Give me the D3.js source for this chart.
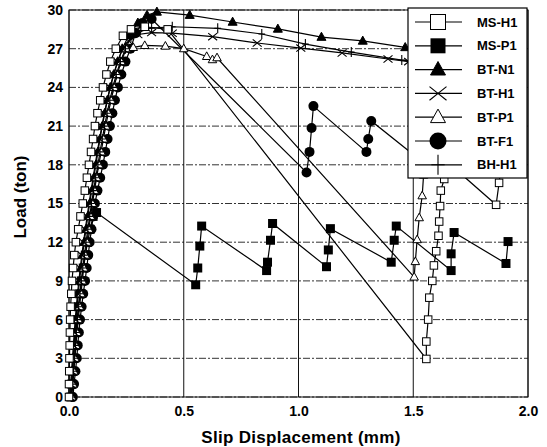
<!DOCTYPE html>
<html>
<head>
<meta charset="utf-8">
<script src="https://cdn.jsdelivr.net/npm/d3@7"></script>
<style>
  body { margin: 0; background: #fff; }
  text { font-family: "Liberation Sans", Arial, sans-serif; font-weight: bold; fill: #000; }
</style>
</head>
<body>
<div id="chart"></div>
<script>
// tick labels
var yTicks = [0, 3, 6, 9, 12, 15, 18, 21, 24, 27, 30];
var xTicks = [0.0, 0.5, 1.0, 1.5, 2.0];

// load steps of the rising (elastic) part, ton
var riseLoad = [0, 1, 2, 3, 4, 5, 6, 7, 8, 9, 10, 11, 12, 13, 14, 15, 16, 17, 18, 19, 20, 21, 22, 23, 24, 25, 26, 27];

// slip (mm) read at each riseLoad step, then [slip, load] pairs after that
var msH1Rise = [0, 0, 0.001, 0.002, 0.003, 0.004, 0.005, 0.007, 0.01, 0.013, 0.018, 0.023, 0.03, 0.04, 0.05, 0.06, 0.069, 0.078, 0.087, 0.096, 0.105, 0.113, 0.124, 0.136, 0.148, 0.163, 0.18, 0.204];
var msH1Tail = [[0.235, 28.0], [0.27, 28.5], [0.33, 28.7], [0.43, 28.5], [1.557, 2.95], [1.557, 4.3], [1.565, 6.0], [1.57, 7.7], [1.583, 9.0], [1.59, 10.2], [1.6, 11.3], [1.61, 12.5], [1.613, 13.6], [1.617, 14.8], [1.62, 16.0], [1.635, 16.9], [1.65, 18.2], [1.861, 14.9], [1.874, 16.6], [1.885, 18.3]];

var msP1Rise = [0.008, 0.012, 0.016, 0.02, 0.025, 0.03, 0.035, 0.041, 0.047, 0.054, 0.062, 0.071, 0.081, 0.092, 0.105];
var msP1Tail = [[0.12, 14.3], [0.552, 8.7], [0.561, 10.0], [0.57, 11.7], [0.578, 13.25], [0.861, 9.8], [0.865, 10.45], [0.878, 12.15], [0.887, 13.45], [1.122, 10.1], [1.13, 11.4], [1.139, 13.05], [1.404, 10.45], [1.417, 12.15], [1.426, 13.25], [1.665, 9.8], [1.665, 11.1], [1.678, 12.75], [1.904, 10.35], [1.913, 12.05]];

var btN1Rise = [0.006, 0.01, 0.014, 0.018, 0.022, 0.026, 0.03, 0.035, 0.04, 0.046, 0.052, 0.059, 0.066, 0.074, 0.082, 0.09, 0.099, 0.108, 0.117, 0.126, 0.135, 0.145, 0.156, 0.167, 0.18, 0.195, 0.212, 0.232];
var btN1Tail = [[0.26, 28.0], [0.3, 29.0], [0.34, 29.6], [0.383, 29.85], [0.526, 29.6], [0.713, 29.07], [0.91, 28.53], [1.1, 27.9], [1.28, 27.6], [1.465, 27.1], [1.7, 26.5], [1.9, 26.0]];

var btH1Rise = [0.004, 0.007, 0.011, 0.015, 0.019, 0.023, 0.027, 0.032, 0.037, 0.043, 0.049, 0.056, 0.063, 0.071, 0.079, 0.087, 0.096, 0.105, 0.114, 0.123, 0.133, 0.143, 0.154, 0.166, 0.179, 0.194, 0.212, 0.234];
var btH1Tail = [[0.26, 27.6], [0.3, 28.1], [0.36, 28.25], [0.45, 28.2], [0.626, 27.93], [0.82, 27.44], [1.01, 27.05], [1.19, 26.67], [1.39, 26.2], [1.48, 26.0], [1.7, 25.5], [1.9, 25.0]];

var btP1Rise = [0.012, 0.017, 0.021, 0.026, 0.03, 0.035, 0.04, 0.046, 0.052, 0.058, 0.064, 0.071, 0.078, 0.086, 0.094, 0.102, 0.111, 0.12, 0.13, 0.14, 0.15, 0.16, 0.171, 0.183, 0.196, 0.21, 0.227, 0.25];
var btP1Tail = [[0.28, 27.1], [0.33, 27.25], [0.42, 27.2], [0.5, 27.0], [0.6, 26.4], [0.625, 26.15], [0.645, 26.3], [1.504, 9.3], [1.509, 10.5], [1.517, 12.2], [1.526, 13.9], [1.539, 15.6], [1.545, 17.2], [1.55, 19.0]];

var btF1Rise = [0.017, 0.022, 0.028, 0.034, 0.038, 0.043, 0.048, 0.055, 0.062, 0.07, 0.077, 0.084, 0.09, 0.098, 0.105, 0.113, 0.124, 0.136, 0.148, 0.158, 0.168, 0.178, 0.189, 0.2, 0.213, 0.228, 0.246, 0.268];
var btF1Tail = [[0.29, 28.2], [0.32, 29.0], [0.36, 29.3], [1.035, 17.4], [1.048, 19.0], [1.057, 20.85], [1.065, 22.55], [1.296, 19.0], [1.304, 20.0], [1.317, 21.4], [1.5, 18.8]];

var bhH1Rise = [0.01, 0.014, 0.019, 0.024, 0.028, 0.032, 0.037, 0.042, 0.048, 0.054, 0.06, 0.067, 0.074, 0.082, 0.09, 0.098, 0.107, 0.116, 0.126, 0.135, 0.145, 0.155, 0.166, 0.178, 0.191, 0.206, 0.224, 0.246];
var bhH1Tail = [[0.27, 27.9], [0.31, 28.4], [0.36, 28.6], [0.45, 28.7], [0.648, 28.58], [0.84, 28.14], [1.03, 27.36], [1.23, 26.74], [1.45, 26.12], [1.7, 25.6], [1.9, 25.1]];

var seriesNames = ["MS-H1", "MS-P1", "BT-N1", "BT-H1", "BT-P1", "BT-F1", "BH-H1"];
var seriesSym = ["sqOpen", "sqFill", "triFill", "cross", "triOpen", "circle", "plus"];
var seriesRise = [msH1Rise, msP1Rise, btN1Rise, btH1Rise, btP1Rise, btF1Rise, bhH1Rise];
var seriesTail = [msH1Tail, msP1Tail, btN1Tail, btH1Tail, btP1Tail, btF1Tail, bhH1Tail];

var W = 547, H = 447;
var margin = { left: 69, right: 19, top: 10, bottom: 50 };

var svg = d3.select("#chart").append("svg")
    .attr("width", W)
    .attr("height", H);

var x = d3.scaleLinear().domain([0, 2]).range([margin.left, W - margin.right]);
var y = d3.scaleLinear().domain([0, 30]).range([H - margin.bottom, margin.top]);

// grid
svg.append("g").selectAll("line")
    .data(yTicks)
    .enter()
    .append("line")
    .attr("x1", x(0)).attr("x2", x(2))
    .attr("y1", d => y(d)).attr("y2", d => y(d))
    .attr("stroke", "#333")
    .attr("stroke-width", 1)
    .attr("stroke-dasharray", "7,2,2,2");

svg.append("g").selectAll("line")
    .data(xTicks)
    .enter()
    .append("line")
    .attr("x1", d => x(d)).attr("x2", d => x(d))
    .attr("y1", y(0)).attr("y2", y(30))
    .attr("stroke", "#111")
    .attr("stroke-width", 1);

svg.append("rect")
    .attr("x", x(0)).attr("y", y(30))
    .attr("width", x(2) - x(0)).attr("height", y(0) - y(30))
    .attr("fill", "none")
    .attr("stroke", "#111");

// axes
var yAxis = svg.append("g")
    .attr("transform", "translate(" + x(0) + ",0)")
    .call(d3.axisLeft(y).tickValues(yTicks).tickSize(0).tickPadding(6));
yAxis.select(".domain").remove();
yAxis.selectAll("text").style("font-size", "14px");

var xAxis = svg.append("g")
    .attr("transform", "translate(0," + y(0) + ")")
    .call(d3.axisBottom(x).tickValues(xTicks).tickFormat(d3.format(".1f")).tickSize(0).tickPadding(9));
xAxis.select(".domain").remove();
xAxis.selectAll("text").style("font-size", "14px");

svg.append("text")
    .attr("x", 301).attr("y", 443)
    .attr("text-anchor", "middle")
    .style("font-size", "17px")
    .style("letter-spacing", "0.3px")
    .text("Slip Displacement (mm)");

svg.append("text")
    .attr("transform", "translate(26,197) rotate(-90)")
    .attr("text-anchor", "middle")
    .style("font-size", "17px")
    .text("Load (ton)");

// marker drawing
function drawSymbol(g, sym, s) {
    if (sym == "sqOpen") {
        g.append("rect").attr("x", -s / 2).attr("y", -s / 2).attr("width", s).attr("height", s)
            .attr("fill", "#fff").attr("stroke", "#000").attr("stroke-width", 1);
    } else if (sym == "sqFill") {
        g.append("rect").attr("x", -s / 2).attr("y", -s / 2).attr("width", s).attr("height", s)
            .attr("fill", "#000");
    } else if (sym == "triFill" || sym == "triOpen") {
        var h = s * 0.9;
        g.append("path")
            .attr("d", "M0," + (-h * 0.6) + "L" + (s / 2) + "," + (h * 0.4) + "L" + (-s / 2) + "," + (h * 0.4) + "Z")
            .attr("fill", sym == "triFill" ? "#000" : "#fff")
            .attr("stroke", "#000").attr("stroke-width", 1);
    } else if (sym == "cross") {
        var r = s / 2;
        g.append("path").attr("d", "M" + (-r) + "," + (-r * 0.8) + "L" + r + "," + (r * 0.8) + "M" + (-r) + "," + (r * 0.8) + "L" + r + "," + (-r * 0.8))
            .attr("stroke", "#000").attr("stroke-width", 1.1);
    } else if (sym == "circle") {
        g.append("circle").attr("r", s / 2).attr("fill", "#000");
    } else if (sym == "plus") {
        g.append("path").attr("d", "M0," + (-s / 2) + "V" + (s / 2) + "M" + (-s / 3) + ",0H" + (s / 3))
            .attr("stroke", "#000").attr("stroke-width", 1.1);
    }
}

var plotSize = { sqOpen: 7.5, sqFill: 9, triFill: 9, cross: 9, triOpen: 8.5, circle: 10, plus: 10 };
var legendSize = { sqOpen: 15, sqFill: 15, triFill: 15, cross: 17, triOpen: 15, circle: 17, plus: 20 };

var line = d3.line()
    .x(d => x(d[0]))
    .y(d => y(d[1]));

var allData = seriesNames.map(function(name, i) {
    var pts = seriesRise[i].map((s, j) => [s, riseLoad[j]]).concat(seriesTail[i]);
    return { name: name, sym: seriesSym[i], pts: pts };
});

var plot = svg.append("g");

// lines first
allData.forEach(function(s) {
    plot.append("path")
        .datum(s.pts)
        .attr("d", line)
        .attr("fill", "none")
        .attr("stroke", "#000")
        .attr("stroke-width", 1.2);
});

// markers, open squares on top
var order = [5, 1, 2, 4, 3, 6, 0];
order.forEach(function(i) {
    var s = allData[i];
    s.pts.forEach(function(p) {
        var g = plot.append("g").attr("transform", "translate(" + x(p[0]) + "," + y(p[1]) + ")");
        drawSymbol(g, s.sym, plotSize[s.sym]);
    });
});

// legend
var lg = svg.append("g").attr("transform", "translate(408,8)");
lg.append("rect")
    .attr("width", 119).attr("height", 170)
    .attr("fill", "#fff").attr("stroke", "#000").attr("stroke-width", 1.2);

allData.forEach(function(s, i) {
    var row = lg.append("g").attr("transform", "translate(0," + (14 + i * 23.8) + ")");
    row.append("line").attr("x1", 7).attr("x2", 54).attr("stroke", "#000").attr("stroke-width", 1.2);
    var g = row.append("g").attr("transform", "translate(30,0)");
    drawSymbol(g, s.sym, legendSize[s.sym]);
    row.append("text")
        .attr("x", 69).attr("y", 0).attr("dy", "0.35em")
        .style("font-size", "13px")
        .text(s.name);
});
</script>
</body>
</html>
